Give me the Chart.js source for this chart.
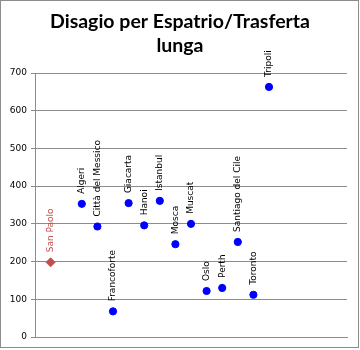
<!DOCTYPE html>
<html>
<head>
  <meta charset="utf-8">
  <title>Disagio per Espatrio/Trasferta lunga</title>
  <script src="https://cdn.jsdelivr.net/npm/chart.js"></script>
  <style>
    html, body { margin: 0; padding: 0; background: #fff; }
  </style>
</head>
<body>
  <canvas id="chart" width="360" height="350"></canvas>

  <script>
    // reference city (red diamond)
    const refCity = 'San Paolo';
    const refPos = 1;
    const refValue = 198;

    // other cities (blue points)
    const cities = ['Algeri', 'Città del Messico', 'Francoforte', 'Giacarta', 'Hanoi', 'Istanbul', 'Mosca',
      'Muscat', 'Oslo', 'Perth', 'Santiago del Cile', 'Toronto', 'Tripoli'];
    const positions = [3, 4, 5, 6, 7, 8, 9, 10, 11, 12, 13, 14, 15];
    const values = [353, 293, 68, 355, 296, 361, 246, 300, 122, 130, 252, 112, 663];

    const yTicks = [0, 100, 200, 300, 400, 500, 600, 700];
    const titleLines = ['Disagio per Espatrio/Trasferta', 'lunga'];

    const redColor = '#C0504D';
    const blueColor = '#0000FF';

    // outer frame + title of the chart
    const framePlugin = {
      id: 'frame',
      beforeDraw(chart) {
        const ctx = chart.ctx;
        ctx.save();
        ctx.fillStyle = '#fff';
        ctx.fillRect(0, 0, chart.width, chart.height);
        ctx.strokeStyle = '#8c8c8c';
        ctx.lineWidth = 1;
        ctx.strokeRect(0.5, 0.5, 358, 347);
        ctx.fillStyle = '#000';
        ctx.font = 'bold 19.5px Lato';
        ctx.textAlign = 'center';
        ctx.textBaseline = 'alphabetic';
        titleLines.forEach((t, i) => ctx.fillText(t, 180, 28 + i * 24));
        ctx.restore();
      }
    };

    // vertical labels above each point
    const labelPlugin = {
      id: 'pointLabels',
      afterDatasetsDraw(chart) {
        const ctx = chart.ctx;
        chart.data.datasets.forEach((ds, i) => {
          const meta = chart.getDatasetMeta(i);
          meta.data.forEach((pt, j) => {
            ctx.save();
            ctx.translate(pt.x, pt.y - 10);
            ctx.rotate(-Math.PI / 2);
            ctx.font = '9px "DejaVu Sans"';
            ctx.fillStyle = ds.labelColor;
            ctx.textAlign = 'left';
            ctx.textBaseline = 'middle';
            ctx.fillText(ds.names[j], 0, 0);
            ctx.restore();
          });
        });
      }
    };

    new Chart(document.getElementById('chart'), {
      type: 'scatter',
      data: {
        datasets: [
          {
            label: refCity,
            names: [refCity],
            labelColor: redColor,
            data: [{ x: refPos, y: refValue }],
            pointStyle: 'rectRot',
            pointRadius: 4.5,
            backgroundColor: redColor,
            borderColor: redColor,
          },
          {
            label: 'Città',
            names: cities,
            labelColor: '#000',
            data: cities.map((c, i) => ({ x: positions[i], y: values[i] })),
            pointStyle: 'circle',
            pointRadius: 3.6,
            backgroundColor: blueColor,
            borderColor: blueColor,
          },
        ],
      },
      options: {
        responsive: false,
        animation: false,
        layout: { padding: { left: 0, right: 13, top: 73, bottom: 5 } },
        plugins: {
          legend: { display: false },
          tooltip: { enabled: false },
          title: { display: false },
        },
        scales: {
          x: {
            type: 'linear',
            min: 0,
            max: 20,
            grid: { display: false },
            ticks: { display: false },
            border: { display: true, color: '#8c8c8c' },
          },
          y: {
            min: 0,
            max: 700,
            afterFit(scale) { scale.width = 35; },
            afterBuildTicks(scale) { scale.ticks = yTicks.map(v => ({ value: v })); },
            grid: { color: '#8c8c8c', tickLength: 4, drawTicks: true },
            border: { display: true, color: '#8c8c8c' },
            ticks: { color: '#000', padding: 4, font: { family: 'DejaVu Sans', size: 9 } },
          },
        },
      },
      plugins: [framePlugin, labelPlugin],
    });
  </script>
</body>
</html>
